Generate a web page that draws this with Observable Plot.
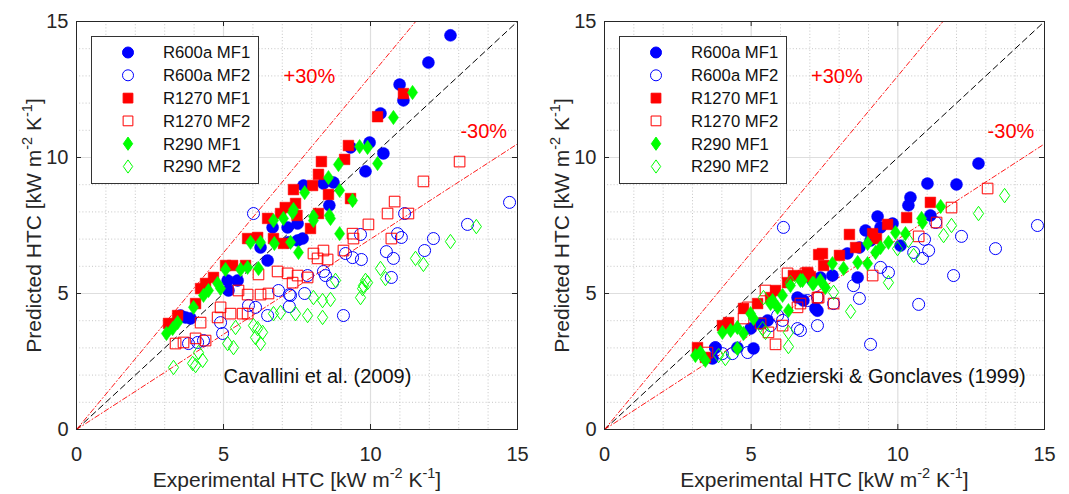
<!DOCTYPE html>
<html><head><meta charset="utf-8">
<script src="https://cdn.jsdelivr.net/npm/d3@7"></script>
<script src="https://cdn.jsdelivr.net/npm/@observablehq/plot@0.6"></script>
<style>
html,body{margin:0;padding:0;background:#fff;}
#wrap{display:flex;width:1069px;height:494px;overflow:hidden;}
#wrap svg{display:block;overflow:visible;}
</style></head><body><div id="wrap"></div>
<script>
// ---- series definitions ----
const seriesNames  = ["R600a MF1","R600a MF2","R1270 MF1","R1270 MF2","R290 MF1","R290 MF2"];
const seriesColors = ["#0000ff","#0000ff","#ff0000","#ff0000","#00ff00","#00ff00"];
const seriesFilled = [true,false,true,false,true,false];
const seriesShapes = ["circle","circle","square","square","diamond","diamond"];

// ---- axis ticks ----
const majorTicks = [0,5,10,15];
const minorTicks = [1,2,3,4,6,7,8,9,11,12,13,14];
const refSlopes  = [1,1.3,0.7];
const bandLabels = ["+30%","-30%"];
const bandLabelX = [7.04,13.06];
const bandLabelY = [12.98,10.96];
const sourceLabels = ["Cavallini et al. (2009)","Kedzierski & Gonclaves (1999)"];
const sourceLabelX = 5.0;
const sourceLabelY = 1.95;
const xLabel = "Experimental HTC [kW m^{-2} K^{-1}]";
const yLabel = "Predicted HTC [kW m^{-2} K^{-1}]";

// ---- Cavallini et al. (2009): [experimental, predicted] ----
const cavR600aMF1 = [[12.72,14.49],[11.97,13.49],[10.99,12.68],[11.12,12.10],[10.34,11.62],[9.97,10.55],[10.44,10.15],[9.83,9.49],[9.32,10.37],[8.60,8.24],[7.72,8.97],[8.40,9.04],[8.74,9.08],[7.18,7.43],[7.69,7.02],[6.67,7.43],[7.52,7.57],[6.26,6.69],[6.50,6.21],[7.21,6.88],[7.52,6.95],[5.14,5.48],[5.48,5.48],[5.17,5.11],[3.71,4.12],[3.88,4.08],[3.54,4.19]];
const cavR600aMF2 = [[14.73,8.35],[11.16,7.94],[13.30,7.54],[12.14,7.02],[10.92,7.20],[11.05,7.06],[11.84,6.58],[10.54,6.54],[10.78,6.29],[9.66,7.17],[9.15,6.47],[9.39,6.32],[9.69,6.25],[8.40,5.81],[8.47,5.66],[8.71,5.40],[10.71,5.59],[7.86,5.66],[7.76,5.00],[7.24,4.96],[7.24,4.52],[9.08,4.19],[6.02,7.94],[6.87,5.11],[7.28,4.93],[5.85,4.56],[6.09,4.49],[6.50,4.19],[4.90,3.93],[4.97,3.53],[4.32,3.27],[4.12,3.20],[3.81,3.16]];
const cavR1270MF1 = [[11.12,12.35],[10.24,11.50],[9.25,10.44],[8.33,9.85],[9.12,9.93],[8.23,9.38],[7.38,8.82],[8.03,8.97],[8.57,8.64],[9.32,8.49],[7.10,8.16],[7.50,7.87],[8.23,7.94],[7.96,7.39],[6.50,7.76],[6.94,7.94],[7.45,8.31],[5.82,7.02],[6.16,7.06],[6.70,7.02],[7.04,6.84],[5.07,6.03],[5.31,6.03],[5.75,6.03],[4.22,5.18],[4.66,5.59],[4.39,5.37],[3.13,3.90],[3.44,4.19],[4.05,4.63]];
const cavR1270MF2 = [[13.03,9.85],[11.80,9.12],[10.82,8.38],[10.58,7.94],[11.29,7.94],[9.93,7.54],[9.39,7.20],[9.42,7.02],[10.71,7.02],[9.08,6.58],[8.40,6.58],[8.06,6.47],[8.20,6.29],[8.54,6.25],[7.18,5.74],[7.52,5.66],[7.86,5.59],[7.35,5.40],[6.84,5.81],[6.19,5.70],[5.51,5.11],[5.82,4.96],[6.26,4.96],[6.53,5.00],[4.90,4.49],[5.24,4.26],[4.80,4.12],[5.65,4.26],[5.82,4.26],[4.22,3.93],[4.05,3.35],[4.39,3.27],[3.64,3.20],[3.37,3.16]];
const cavR290MF1 = [[11.43,12.39],[10.78,11.47],[9.63,10.40],[9.90,10.37],[8.91,9.74],[10.24,9.78],[8.57,9.26],[7.76,8.71],[8.95,8.79],[9.39,8.42],[7.38,8.09],[8.06,7.83],[8.60,7.87],[8.06,7.68],[8.64,7.76],[8.95,7.20],[7.55,6.51],[7.28,6.88],[6.70,7.68],[7.04,7.76],[7.35,7.98],[5.92,6.88],[6.26,6.88],[6.73,6.84],[5.07,5.88],[5.58,5.88],[5.82,5.96],[6.19,5.92],[4.80,5.37],[4.49,5.11],[4.32,4.93],[4.90,5.18],[3.98,4.49],[3.44,3.93],[3.06,3.53],[3.27,3.71]];
const cavR290MF2 = [[13.60,7.46],[12.72,6.91],[11.53,6.29],[11.80,6.07],[10.34,5.92],[10.51,5.55],[9.83,5.48],[9.90,5.40],[9.76,5.29],[9.73,5.18],[9.66,4.85],[8.81,5.48],[8.06,4.85],[8.37,4.74],[8.64,4.78],[7.45,4.26],[7.86,4.19],[8.37,4.12],[6.94,4.30],[6.70,4.26],[6.16,3.71],[6.33,3.57],[6.02,3.82],[6.26,3.16],[6.09,3.38],[5.41,3.75],[5.34,3.01],[5.14,3.16],[4.15,2.83],[4.29,2.54],[3.95,2.43],[4.05,2.35],[3.30,2.28]];

// ---- Kedzierski & Gonclaves (1999): [experimental, predicted] ----
const kedR600aMF1 = [[12.75,9.78],[11.01,9.04],[12.00,9.01],[10.43,8.53],[10.36,8.24],[9.31,7.83],[11.11,7.87],[9.41,7.43],[9.82,7.57],[8.90,7.32],[9.07,6.95],[8.69,6.69],[8.63,5.59],[8.28,6.47],[7.77,5.66],[7.36,5.59],[7.19,4.45],[10.09,6.76],[3.78,3.01],[3.68,2.61],[5.08,2.98],[5.32,3.90],[5.56,4.01],[4.98,3.71],[4.53,3.01],[6.58,4.85],[6.78,4.74],[7.26,4.37],[7.09,5.48]];
const kedR600aMF2 = [[14.76,7.50],[13.33,6.65],[12.17,7.10],[11.90,5.66],[11.05,6.58],[10.84,6.29],[10.54,6.51],[10.91,6.99],[11.29,7.61],[10.71,4.60],[9.07,3.13],[9.68,5.77],[9.41,5.96],[8.69,4.82],[8.49,5.29],[7.81,4.63],[7.26,3.82],[6.68,3.64],[6.10,7.43],[6.58,3.71],[6.07,4.01],[5.66,3.82],[6.92,4.74],[7.26,4.85],[4.88,2.83],[4.36,2.79],[4.02,2.79],[3.78,3.01],[5.90,4.19]];
const kedR1270MF1 = [[11.11,8.35],[10.30,7.79],[9.65,7.54],[9.14,7.20],[9.27,7.02],[8.35,7.17],[8.56,6.69],[7.43,6.47],[8.01,6.40],[7.47,6.03],[6.92,5.74],[7.02,5.62],[3.17,3.01],[3.44,2.65],[4.02,3.82],[4.23,3.93],[4.74,4.45],[5.22,4.63],[5.83,5.11],[6.24,5.40],[6.44,5.66],[6.78,5.66],[6.95,5.66],[7.30,6.43],[5.66,4.85]];
const kedR1270MF2 = [[13.06,8.86],[11.83,8.16],[11.32,7.61],[10.71,7.10],[9.14,5.66],[7.81,4.63],[7.30,4.85],[6.85,5.74],[6.68,4.63],[3.51,2.83],[4.88,4.49],[5.32,3.90],[5.49,5.11],[6.24,5.74],[6.92,5.77],[5.83,3.13],[6.07,3.82],[6.58,4.49],[5.59,3.57],[4.74,4.08],[7.26,4.85]];
const kedR290MF1 = [[11.46,8.20],[10.81,7.76],[10.84,7.61],[10.26,7.20],[9.92,7.24],[9.68,6.88],[9.41,6.69],[9.24,6.51],[8.97,6.84],[8.97,6.10],[8.63,6.14],[8.15,5.92],[7.77,6.10],[7.36,5.48],[7.09,5.37],[7.53,5.22],[6.68,5.48],[3.10,2.72],[3.44,2.54],[3.27,2.83],[4.02,3.57],[4.30,3.64],[4.53,3.75],[4.74,3.53],[4.53,2.98],[4.98,4.26],[5.08,4.08],[5.66,4.63],[5.90,4.49],[6.07,4.93],[6.27,4.37],[6.34,5.29],[6.75,5.48],[7.13,5.37],[5.73,4.74]];
const kedR290MF2 = [[13.64,8.60],[12.75,7.94],[11.83,7.50],[11.56,7.13],[10.54,6.40],[9.68,5.40],[8.39,4.34],[7.81,5.04],[9.99,6.65],[10.36,6.95],[3.27,2.79],[4.12,2.61],[3.89,2.72],[5.39,3.71],[5.49,3.57],[5.42,4.85],[6.27,3.05],[6.27,3.57],[6.34,5.40]];

const cavSeries = [cavR600aMF1,cavR600aMF2,cavR1270MF1,cavR1270MF2,cavR290MF1,cavR290MF2];
const kedSeries = [kedR600aMF1,kedR600aMF2,kedR1270MF1,kedR1270MF2,kedR290MF1,kedR290MF2];

// ---- styling ----
const FONT = "'Liberation Sans', Arial, Helvetica, sans-serif";
const AXC = "#262626";
const diamondSym = {draw(ctx, size){const r=Math.sqrt(size/Math.PI);ctx.moveTo(0,-1.2*r);ctx.lineTo(0.85*r,0);ctx.lineTo(0,1.2*r);ctx.lineTo(-0.85*r,0);ctx.closePath();}};
const symFor = s => s==="diamond" ? diamondSym : s;

const panels = [
  {series: cavSeries, source: sourceLabels[0], width: 534, ml: 76, mr: 17},
  {series: kedSeries, source: sourceLabels[1], width: 535, ml: 70, mr: 25}
];
const MT = 21, MB = 65, H = 494;
const innerH = H - MT - MB;

function applySup(svg){
  d3.select(svg).selectAll("text").each(function(){
    const t = this.textContent;
    if (!t.includes("^{")) return;
    const el = d3.select(this);
    el.text(null);
    const parts = t.split(/(\^\{[^}]*\})/).filter(p=>p);
    let up = false;
    parts.forEach(p=>{
      if (p.startsWith("^{")) {
        el.append("tspan").attr("font-size","14.5px").attr("dy","-9px").text(p.slice(2,-1));
        up = true;
      } else {
        const ts = el.append("tspan").text(p);
        if (up) { ts.attr("dy","9px"); up = false; }
      }
    });
  });
}

function drawLegend(svg, ml){
  const g = d3.select(svg).append("g").attr("transform",`translate(${ml+15.5},${MT+15.5})`);
  g.append("rect").attr("width",167).attr("height",147).attr("fill","#fff").attr("stroke","#333").attr("stroke-width",1);
  seriesNames.forEach((name,i)=>{
    const cy = 16 + i*22.8;
    const c = seriesColors[i];
    const fill = seriesFilled[i] ? c : "none";
    if (seriesShapes[i]==="circle") {
      g.append("circle").attr("cx",36.5).attr("cy",cy).attr("r",5.5).attr("fill",fill).attr("stroke",c).attr("stroke-width",1);
    } else {
      const sym = seriesShapes[i]==="square" ? d3.symbolSquare : diamondSym;
      g.append("path").attr("transform",`translate(36.5,${cy})`).attr("d",d3.symbol(sym, 5.5*5.5*Math.PI)()).attr("fill",fill).attr("stroke",c).attr("stroke-width",1);
    }
    g.append("text").attr("x",71.5).attr("y",cy).attr("dy","0.35em").attr("text-anchor","start").attr("font-size","16.7px").attr("font-family",FONT).attr("fill","#111").text(name);
  });
}

const wrap = document.getElementById("wrap");
panels.forEach(p=>{
  const innerW = p.width - p.ml - p.mr;
  const marks = [
    Plot.ruleX(minorTicks, {stroke:"#b8b8b8", strokeWidth:0.8, strokeDasharray:"1,2.2"}),
    Plot.ruleY(minorTicks, {stroke:"#b8b8b8", strokeWidth:0.8, strokeDasharray:"1,2.2"}),
    Plot.ruleX([5,10], {stroke:"#dedede", strokeWidth:1.2}),
    Plot.ruleY([5,10], {stroke:"#dedede", strokeWidth:1.2})
  ];
  refSlopes.forEach(s=>{
    const pts = [[0,0],[Math.min(15,15/s), Math.min(15,15*s)]];
    marks.push(Plot.line(pts, {x:d=>d[0], y:d=>d[1], stroke: s===1 ? "#000" : "#ff0000", strokeWidth: s===1 ? 1 : 0.9, strokeDasharray: s===1 ? "6,4" : "5,2.5,1,2.5"}));
  });
  p.series.forEach((pts,i)=>{
    marks.push(Plot.dot(pts, {x:d=>d[0], y:d=>d[1], r:6, symbol: symFor(seriesShapes[i]),
      fill: seriesFilled[i] ? seriesColors[i] : "none", stroke: seriesColors[i], strokeWidth: seriesFilled[i] ? 0.5 : 1}));
  });
  bandLabels.forEach((t,i)=>{
    marks.push(Plot.text([t], {x: bandLabelX[i], y: bandLabelY[i], text:d=>d, textAnchor:"start", fontSize:20, fill:"#ff0000"}));
  });
  marks.push(Plot.text([p.source], {x: sourceLabelX, y: sourceLabelY, text:d=>d, textAnchor:"start", fontSize:20, fill:"#111"}));
  marks.push(
    Plot.frame({stroke:AXC, strokeWidth:1}),
    Plot.tickX(majorTicks, {x:d=>d, insetTop: innerH-5, stroke:AXC}),
    Plot.tickX(majorTicks, {x:d=>d, insetBottom: innerH-5, stroke:AXC}),
    Plot.tickY(majorTicks, {y:d=>d, insetLeft: innerW-5, stroke:AXC}),
    Plot.tickY(majorTicks, {y:d=>d, insetRight: innerW-5, stroke:AXC}),
    Plot.axisX({ticks: majorTicks, tickSize:0, tickPadding:17, fontSize:20, color:AXC, label:null}),
    Plot.axisY({ticks: majorTicks, tickSize:0, tickPadding:8, fontSize:20, color:AXC, label:null}),
    Plot.text([xLabel], {frameAnchor:"bottom", lineAnchor:"middle", textAnchor:"middle", dy:51, text:d=>d, fontSize:21, fill:AXC}),
    Plot.text([yLabel], {frameAnchor:"left", lineAnchor:"middle", textAnchor:"middle", dx:-42, rotate:-90, text:d=>d, fontSize:21, fill:AXC})
  );
  const svg = Plot.plot({
    width: p.width, height: H,
    marginLeft: p.ml, marginRight: p.mr, marginTop: MT, marginBottom: MB,
    x: {domain:[0,15]}, y: {domain:[0,15]},
    style: {fontFamily: FONT, background:"#fff", overflow:"visible"},
    marks
  });
  applySup(svg);
  drawLegend(svg, p.ml);
  wrap.appendChild(svg);
});
</script></body></html>
